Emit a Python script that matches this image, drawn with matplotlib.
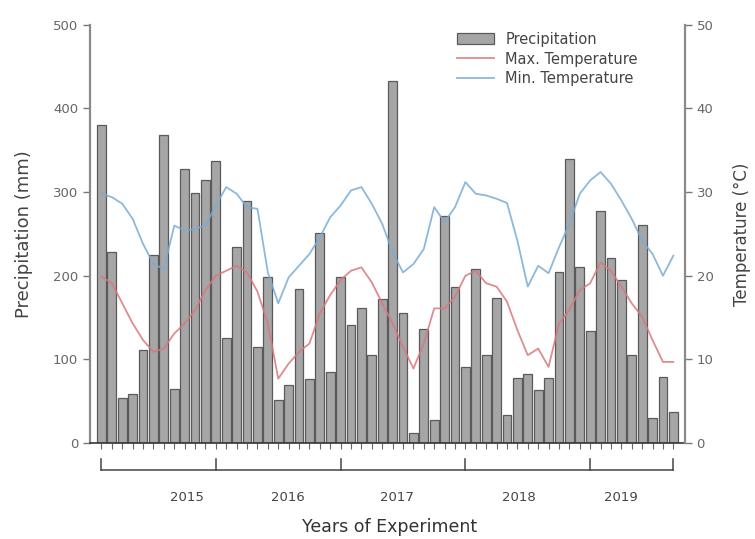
import matplotlib
matplotlib.use("Agg")
import matplotlib.pyplot as plt
import numpy as np

# monthly precipitation (mm), Feb 2015 - Sep 2019
precip = [380, 228, 54, 59, 111, 225, 368, 65, 328, 299, 315, 337,
          125, 234, 289, 115, 198, 51, 69, 184, 76, 251, 85, 198,
          141, 162, 105, 172, 433, 156, 12, 136, 27, 272, 187, 91,
          208, 105, 173, 33, 78, 82, 64, 78, 204, 340, 210, 134,
          277, 221, 195, 105, 261, 30, 79, 37]

# monthly temperatures (°C)
max_temp = [19.9, 19.1, 16.7, 14.3, 12.3, 10.9, 11.3, 13.1, 14.3, 15.9, 18.3, 20.0,
            20.6, 21.2, 20.4, 18.1, 14.3, 7.7, 9.5, 10.9, 11.9, 15.5, 17.7, 19.5,
            20.6, 21.0, 19.2, 16.7, 14.3, 11.5, 8.9, 11.9, 16.1, 16.1, 17.5, 20.0,
            20.6, 19.1, 18.7, 16.9, 13.5, 10.5, 11.3, 9.1, 14.3, 15.9, 18.3, 19.1,
            21.6, 20.6, 18.7, 16.7, 15.1, 12.3, 9.7, 9.7]
min_temp = [29.8, 29.4, 28.6, 26.8, 23.8, 21.4, 20.8, 26.0, 25.4, 25.6, 26.0, 28.4,
            30.6, 29.8, 28.2, 28.0, 20.4, 16.7, 19.8, 21.2, 22.6, 24.6, 27.0, 28.4,
            30.2, 30.6, 28.6, 26.2, 22.8, 20.4, 21.4, 23.2, 28.2, 26.4, 28.2, 31.2,
            29.8, 29.6, 29.2, 28.7, 24.2, 18.7, 21.2, 20.3, 23.4, 26.2, 29.8, 31.4,
            32.4, 31.0, 29.0, 26.8, 24.2, 22.6, 20.0, 22.4]

years = ["2015", "2016", "2017", "2018", "2019"]
year_edges = [0, 11, 23, 35, 47, 55]       # month index of bracket ticks
year_label_pos = [8.25, 17.9, 28.4, 40.1, 50.0]

plt.rcParams['font.family'] = ['DejaVu Sans']

x = np.arange(len(precip))

fig = plt.figure(figsize=(7.55, 5.39), dpi=100)
ax = fig.add_axes([0.119, 0.178, 0.788, 0.776])

ax.bar(x, precip, width=0.85, color='#a6a6a6', edgecolor='#5a5a5a',
       linewidth=0.9, label='Precipitation', zorder=2)
ax.set_xlim(-1.12, 56.1)
ax.set_ylim(0, 500)
ax.set_yticks([0, 100, 200, 300, 400, 500])

ax2 = ax.twinx()
ax2.plot(x, max_temp, color='#d9787c', lw=1.3, alpha=0.85, label='Max. Temperature')
ax2.plot(x, min_temp, color='#78acd6', lw=1.3, alpha=0.85, label='Min. Temperature')
ax2.set_ylim(0, 50)
ax2.set_yticks([0, 10, 20, 30, 40, 50])

for a in (ax, ax2):
    for s in a.spines.values():
        s.set_visible(False)
    a.tick_params(axis='y', colors='#777777', labelcolor='#666666',
                  labelsize=9.5, length=5, width=1)

ax.spines['left'].set_visible(True)
ax.spines['left'].set_color('#8a8a8a')
ax.spines['left'].set_linewidth(1.6)
ax.spines['bottom'].set_visible(True)
ax.spines['bottom'].set_color('#333333')
ax.spines['bottom'].set_linewidth(1.2)
ax2.spines['right'].set_visible(True)
ax2.spines['right'].set_color('#8a8a8a')
ax2.spines['right'].set_linewidth(1.6)

# one small tick per month, no labels
ax.set_xticks(x)
ax.set_xticklabels([])
ax.tick_params(axis='x', length=4, width=0.8, color='#666666')

# year bracket below the month ticks
trans = ax.get_xaxis_transform()
y_line = -0.065
ax.plot([year_edges[0], year_edges[-1]], [y_line, y_line], color='#444444',
        lw=1.1, transform=trans, clip_on=False)
for e in year_edges:
    ax.plot([e, e], [y_line, y_line + 0.027], color='#444444', lw=1.1,
            transform=trans, clip_on=False)
for pos, yr in zip(year_label_pos, years):
    ax.text(pos, -0.129, yr, transform=trans, ha='center', va='center',
            fontsize=9.5, color='#444444')

fig.text(0.516, 0.022, 'Years of Experiment', ha='center', va='center',
         fontsize=12.5, color='#333333')
ax.set_ylabel('Precipitation (mm)', fontsize=13, color='#444444', labelpad=14)
ax2.set_ylabel('Temperature (°C)', fontsize=12, color='#444444', labelpad=14)

h1, l1 = ax.get_legend_handles_labels()
h2, l2 = ax2.get_legend_handles_labels()
leg = ax2.legend(h1 + h2, l1 + l2, loc='upper left',
                 bbox_to_anchor=(0.592, 0.96), bbox_transform=fig.transFigure,
                 frameon=False, fontsize=10.5, handlelength=2.5,
                 handleheight=0.75, labelspacing=0.33, borderpad=0.2,
                 handletextpad=0.8)
for t in leg.get_texts():
    t.set_color('#444444')

fig.savefig('out.png', dpi=100)
